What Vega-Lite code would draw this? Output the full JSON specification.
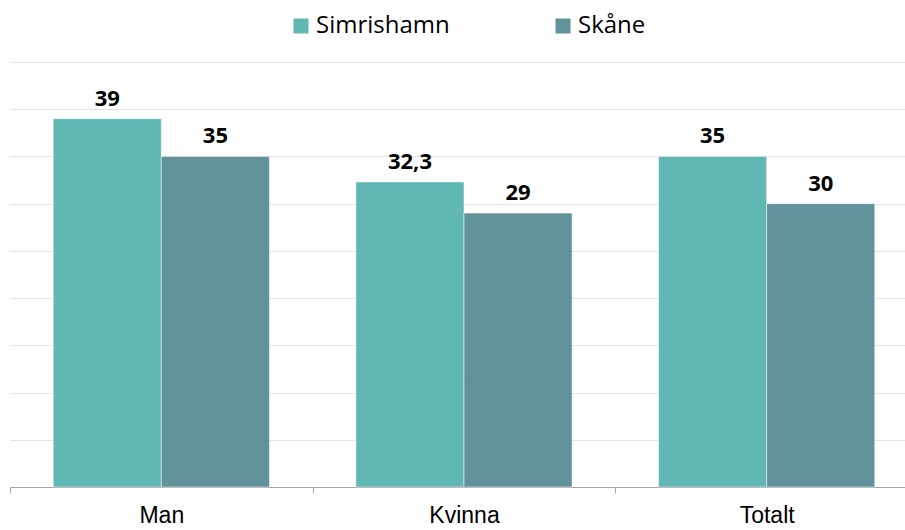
{
  "$schema": "https://vega.github.io/schema/vega-lite/v6.json",
  "width": 908,
  "height": 425,
  "autosize": {"type": "none"},
  "padding": {"left": 10, "top": 62, "right": 0, "bottom": 43},
  "background": "white",
  "data": {"values": [
    {"kategori": "Man", "serie": "Simrishamn", "varde": 39, "etikett": "39"},
    {"kategori": "Man", "serie": "Skåne", "varde": 35, "etikett": "35"},
    {"kategori": "Kvinna", "serie": "Simrishamn", "varde": 32.3, "etikett": "32,3"},
    {"kategori": "Kvinna", "serie": "Skåne", "varde": 29, "etikett": "29"},
    {"kategori": "Totalt", "serie": "Simrishamn", "varde": 35, "etikett": "35"},
    {"kategori": "Totalt", "serie": "Skåne", "varde": 30, "etikett": "30"}
  ]},
  "config": {"view": {"stroke": null}},
  "encoding": {
    "x": {"field": "kategori", "type": "nominal", "sort": ["Man", "Kvinna", "Totalt"],
      "scale": {"paddingInner": 0, "paddingOuter": 0},
      "axis": {"title": null, "labelAngle": 0, "labelFont": "Liberation Sans", "labelFontSize": 23, "labelColor": "#000000",
        "labelPadding": 11, "domainColor": "#A6A6A6", "tickColor": "#A6A6A6", "tickSize": 6, "tickBand": "extent", "grid": false}},
    "xOffset": {"field": "serie", "type": "nominal", "sort": ["Simrishamn", "Skåne"], "scale": {"paddingInner": 0, "paddingOuter": 0.4}},
    "y": {"field": "varde", "type": "quantitative", "scale": {"domain": [0, 45], "nice": false},
      "axis": {"title": null, "labels": false, "ticks": false, "domain": false, "values": [5, 10, 15, 20, 25, 30, 35, 40, 45], "gridColor": "#E3E3E3", "gridWidth": 1}}
  },
  "layer": [
    {
      "mark": {"type": "bar", "stroke": "white", "strokeWidth": 0.5},
      "encoding": {
        "color": {"field": "serie", "type": "nominal", "sort": ["Simrishamn", "Skåne"],
          "scale": {"domain": ["Simrishamn", "Skåne"], "range": ["#61B7B4", "#61929B"]},
          "legend": {"title": null, "orient": "none", "direction": "horizontal", "legendX": 279, "legendY": -48,
            "symbolType": "square", "symbolSize": 225, "symbolStrokeWidth": 0, "symbolOpacity": 1,
            "labelFont": "Open Sans", "labelFontSize": 24, "labelColor": "#000000", "labelOffset": 3, "columnPadding": 101}}
      }
    },
    {
      "mark": {"type": "text", "baseline": "alphabetic", "dy": -13, "font": "Open Sans", "fontWeight": "bold", "fontSize": 22, "color": "#000000"},
      "encoding": {"text": {"field": "etikett"}}
    }
  ]
}
